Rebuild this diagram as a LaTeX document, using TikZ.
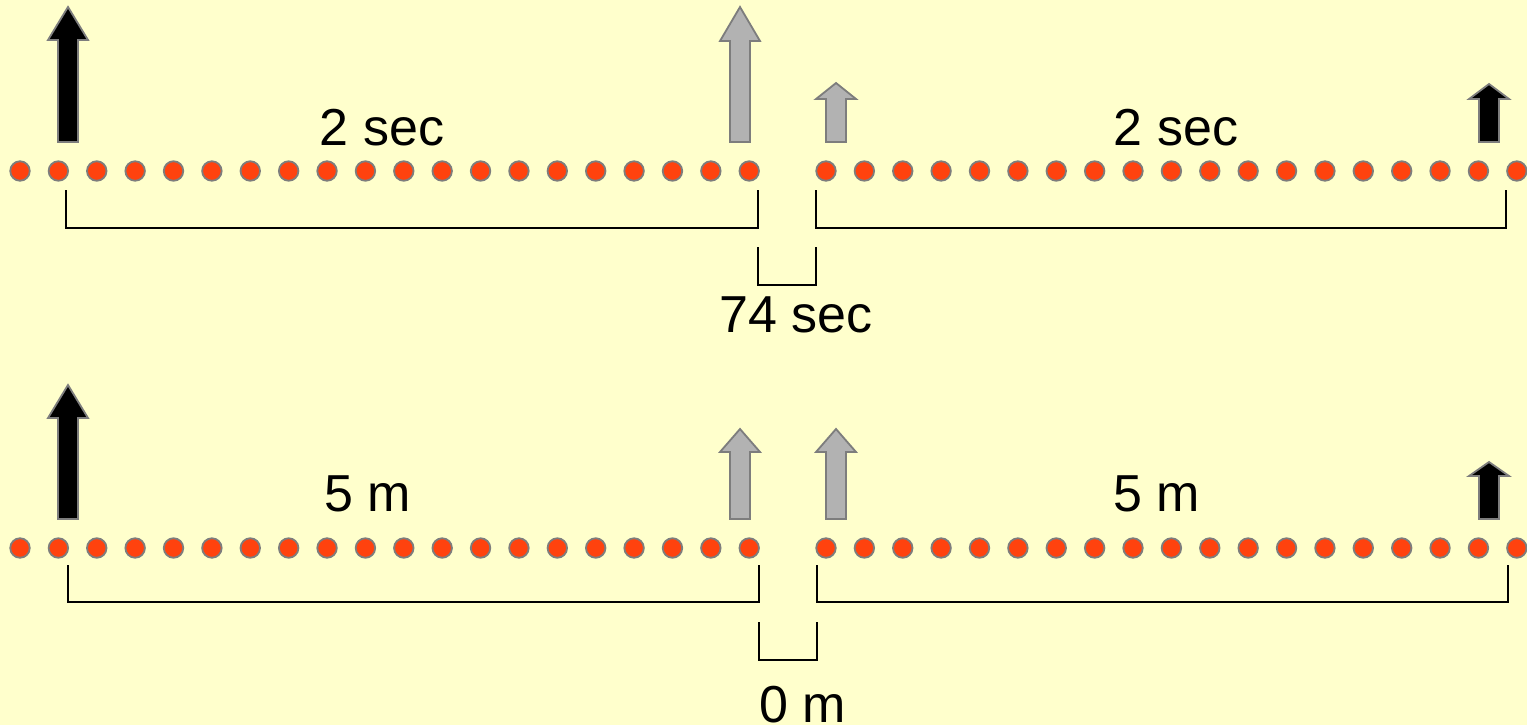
\documentclass[tikz,border=0pt]{standalone}
\usepackage{fontspec}
\setmainfont{Liberation Sans}
\usetikzlibrary{positioning}
\definecolor{bgyellow}{RGB}{255,255,204}
\definecolor{dotred}{RGB}{255,66,14}
\definecolor{arrowgray}{RGB}{178,178,178}
\definecolor{edgegray}{RGB}{125,125,125}

\tikzset{
  dot/.style={circle, fill=dotred, draw=edgegray, line width=1.8pt, minimum size=19.5pt, inner sep=0pt},
  tlabel/.style={anchor=base, inner sep=0pt, font=\fontsize{52}{60}\selectfont},
  bracket/.style={line width=1.8pt, line join=miter},
}
% fill colour, x, bottom, head base, tip
\newcommand{\fatarrow}[5][black]{%
  \filldraw[fill=#1, draw=edgegray, line width=1.8pt, line join=miter]
    (#2-10,#3) -- (#2-10,#4) -- (#2-20,#4) -- (#2,#5) -- (#2+20,#4) -- (#2+10,#4) -- (#2+10,#3) -- cycle;}

\begin{document}
\begin{tikzpicture}[x=1pt, y=-1pt]
  \fill[bgyellow] (0,0) rectangle (1527,725);
  \useasboundingbox (0,0) rectangle (1527,725);

  % rows of dots
  \foreach \i in {0,...,39} {
    \ifnum\i=20 \else
      \node[dot] (t\i) at (20+\i*38.38,171) {};
      \node[dot] (b\i) at (20+\i*38.38,548) {};
    \fi
  }

  % arrows, top row
  \fatarrow{68}{142}{40}{7}
  \fatarrow[arrowgray]{740}{142}{41}{7}
  \fatarrow[arrowgray]{836}{142}{99}{83}
  \fatarrow{1489}{142}{99}{84}
  % arrows, bottom row
  \fatarrow{68}{519}{418}{385}
  \fatarrow[arrowgray]{740}{519}{452}{429}
  \fatarrow[arrowgray]{836}{519}{452}{429}
  \fatarrow{1489}{519}{476}{462}

  % brackets
  \draw[bracket] (66,190) -- (66,228) -- (758,228) -- (758,190);
  \draw[bracket] (816,190) -- (816,228) -- (1506,228) -- (1506,190);
  \draw[bracket] (758,247) -- (758,285) -- (816,285) -- (816,247);
  \draw[bracket] (68,565) -- (68,602) -- (759,602) -- (759,565);
  \draw[bracket] (817,565) -- (817,602) -- (1508,602) -- (1508,565);
  \draw[bracket] (759,622) -- (759,660) -- (817,660) -- (817,622);

  % labels
  \node[tlabel] (tleft) at (382,146) {2 sec};
  \node[tlabel] (tright) at (1176,146) {2 sec};
  \node[tlabel] (tgap) at (796,332) {74 sec};
  \node[tlabel] (bleft) at (368,511) {5 m};
  \node[tlabel] (bright) at (1157,511) {5 m};
  \node[tlabel] (bgap) at (803,722) {0 m};
\end{tikzpicture}
\end{document}
